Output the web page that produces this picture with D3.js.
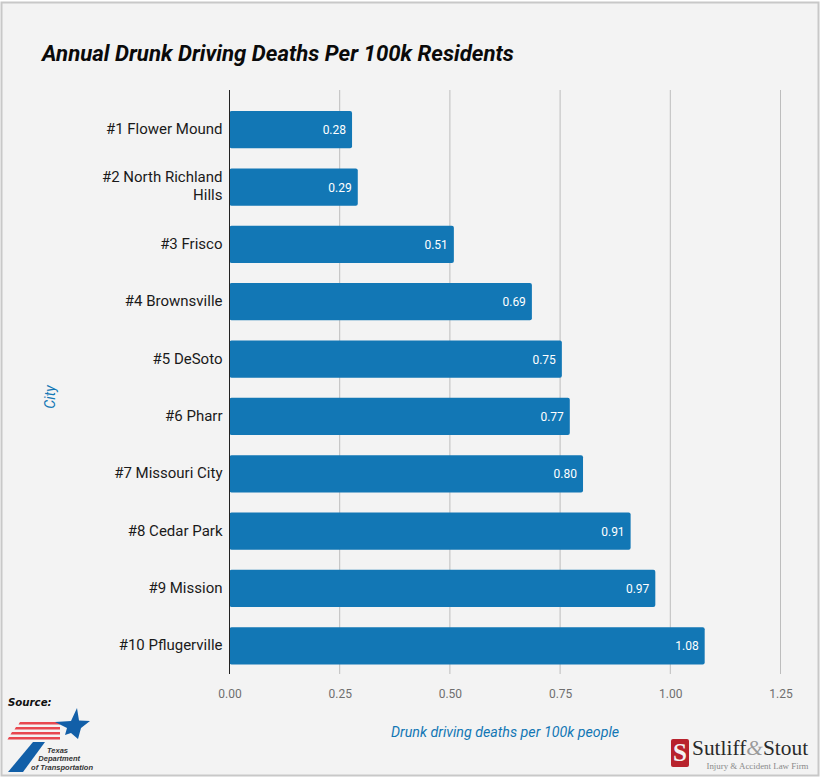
<!DOCTYPE html>
<html>
<head>
<meta charset="utf-8">
<script src="https://cdn.jsdelivr.net/npm/d3@7"></script>
<style>
  html, body { margin: 0; padding: 0; background: #fff; }
  svg { display: block; }
  text { font-family: Roboto, sans-serif; }
</style>
</head>
<body>
<svg id="chart" width="821" height="779"></svg>
<script>
// values (bar lengths, labels show them rounded)
const cities = ["#1 Flower Mound", "#2 North Richland Hills", "#3 Frisco", "#4 Brownsville", "#5 DeSoto",
  "#6 Pharr", "#7 Missouri City", "#8 Cedar Park", "#9 Mission", "#10 Pflugerville"];
const deaths = [0.278, 0.291, 0.509, 0.686, 0.754, 0.772, 0.802, 0.91, 0.966, 1.078];
const xTicks = [0, 0.25, 0.5, 0.75, 1.0, 1.25];

const svg = d3.select("#chart");

// card
svg.append("rect").attr("x", 0).attr("y", 0).attr("width", 821).attr("height", 779).attr("fill", "#fff");
svg.append("rect").attr("x", 1.5).attr("y", 2.5).attr("width", 817).attr("height", 773)
  .attr("fill", "#f3f3f3").attr("stroke", "#c8c8c8").attr("stroke-width", 2);

const x = d3.scaleLinear().domain([0, 1.25]).range([229.5, 780.5]);
const y = d3.scaleBand().domain(cities).range([101, 674.5]).paddingInner(0.35).paddingOuter(0.175);
const plotTop = 90, plotBottom = 674;

// title
svg.append("text").attr("x", 42).attr("y", 61)
  .attr("font-size", 22.2).attr("font-weight", 700).attr("font-style", "italic").attr("fill", "#0a0a0a")
  .text("Annual Drunk Driving Deaths Per 100k Residents");

// gridlines
svg.append("g").selectAll("line").data(xTicks.slice(1)).join("line")
  .attr("x1", d => x(d)).attr("x2", d => x(d))
  .attr("y1", plotTop).attr("y2", plotBottom)
  .attr("stroke", "#bdbdbd").attr("stroke-width", 1);

// bars
svg.append("g").selectAll("rect").data(deaths).join("rect")
  .attr("x", x(0))
  .attr("y", (d, i) => y(cities[i]))
  .attr("width", d => x(d) - x(0))
  .attr("height", y.bandwidth())
  .attr("rx", 2)
  .attr("fill", "#1277b5");

// baseline
svg.append("line").attr("x1", x(0)).attr("x2", x(0)).attr("y1", plotTop).attr("y2", plotBottom)
  .attr("stroke", "#222").attr("stroke-width", 1);

// value labels
svg.append("g").selectAll("text").data(deaths).join("text")
  .attr("x", d => x(d) - 6)
  .attr("y", (d, i) => y(cities[i]) + y.bandwidth() / 2 + 4.5)
  .attr("text-anchor", "end").attr("font-size", 12).attr("fill", "#fff")
  .text(d => d.toFixed(2));

// city labels, long one wraps in two lines
const labelLines = d => d === "#2 North Richland Hills" ? ["#2 North Richland", "Hills"] : [d];
svg.append("g").selectAll("text").data(cities).join("text")
  .attr("text-anchor", "end").attr("font-size", 15).attr("fill", "#1a1a1a")
  .each(function (d) {
    const lines = labelLines(d);
    const mid = y(d) + y.bandwidth() / 2;
    d3.select(this).selectAll("tspan").data(lines).join("tspan")
      .attr("x", 222.5)
      .attr("y", (l, i) => mid + 4.5 + (i - (lines.length - 1) / 2) * 17.5 - (lines.length - 1) * 0.75)
      .text(l => l);
  });

// x tick labels
const xAxis = svg.append("g").attr("transform", `translate(0,${plotBottom})`)
  .call(d3.axisBottom(x).tickValues(xTicks).tickFormat(d3.format(".2f")).tickSize(0).tickPadding(15));
xAxis.select(".domain").remove();
xAxis.selectAll("text").attr("font-size", 12).attr("fill", "#6f6f6f").style("font-family", "Roboto, sans-serif");

// axis titles
svg.append("text").attr("x", 505).attr("y", 737).attr("text-anchor", "middle")
  .attr("font-size", 14.25).attr("font-style", "italic").attr("fill", "#1277b5")
  .text("Drunk driving deaths per 100k people");
svg.append("text").attr("transform", "translate(55,397) rotate(-90)").attr("text-anchor", "middle")
  .attr("font-size", 14.25).attr("font-style", "italic").attr("fill", "#1277b5")
  .text("City");

// source logo (TxDOT)
svg.append("text").attr("x", 8).attr("y", 706)
  .attr("font-size", 10.2).attr("font-weight", 700).attr("font-style", "italic").attr("fill", "#111")
  .style("font-family", "'DejaVu Sans', sans-serif").text("Source:");
const tx = svg.append("g");
[[20, 722], [16, 727], [12, 732], [9, 737]].forEach(s => {
  tx.append("path")
    .attr("d", `M${s[0]},${s[1]}L60,${s[1]}L60,${s[1] + 2.6}L${s[0] - 1.5},${s[1] + 2.6}Z`)
    .attr("fill", "#e8474f");
});
tx.append("path")
  .attr("d", "M77,708 L79,720.5 L90,721 L81,728 L78,739 L71,733 L65,735 L67,728 L55,722 L71,721 Z")
  .attr("fill", "#125fa8");
tx.append("path").attr("d", "M33,742 L45,742 L23,772 L8,772 Z").attr("fill", "#125fa8");
[["Texas", 68, 753], ["Department", 80, 761], ["of Transportation", 93, 770]].forEach(t => {
  tx.append("text").attr("x", t[1]).attr("y", t[2]).attr("text-anchor", "end")
    .attr("font-size", 7.5).attr("font-weight", 700).attr("font-style", "italic").attr("fill", "#333")
    .style("font-family", "'Liberation Sans', sans-serif").text(t[0]);
});

// law firm logo
const firm = svg.append("g");
firm.append("rect").attr("x", 671).attr("y", 739).attr("width", 18).attr("height", 28).attr("rx", 2).attr("fill", "#b8232d");
firm.append("text").attr("x", 680).attr("y", 761).attr("text-anchor", "middle")
  .attr("font-size", 25).attr("font-weight", 700).attr("fill", "#f3f3f3")
  .style("font-family", "'Liberation Serif', serif").text("S");
const firmName = firm.append("text").attr("x", 692).attr("y", 755)
  .attr("font-size", 21.4).attr("fill", "#2a2a2a").style("font-family", "'Liberation Serif', serif");
firmName.append("tspan").text("Sutliff");
firmName.append("tspan").attr("fill", "#9a9a9a").attr("font-style", "italic").text("&");
firmName.append("tspan").text("Stout");
firm.append("text").attr("x", 808.5).attr("y", 768.5).attr("text-anchor", "end")
  .attr("font-size", 8.9).attr("fill", "#8a8a8a").style("font-family", "'Liberation Serif', serif")
  .text("Injury & Accident Law Firm");
</script>
</body>
</html>
